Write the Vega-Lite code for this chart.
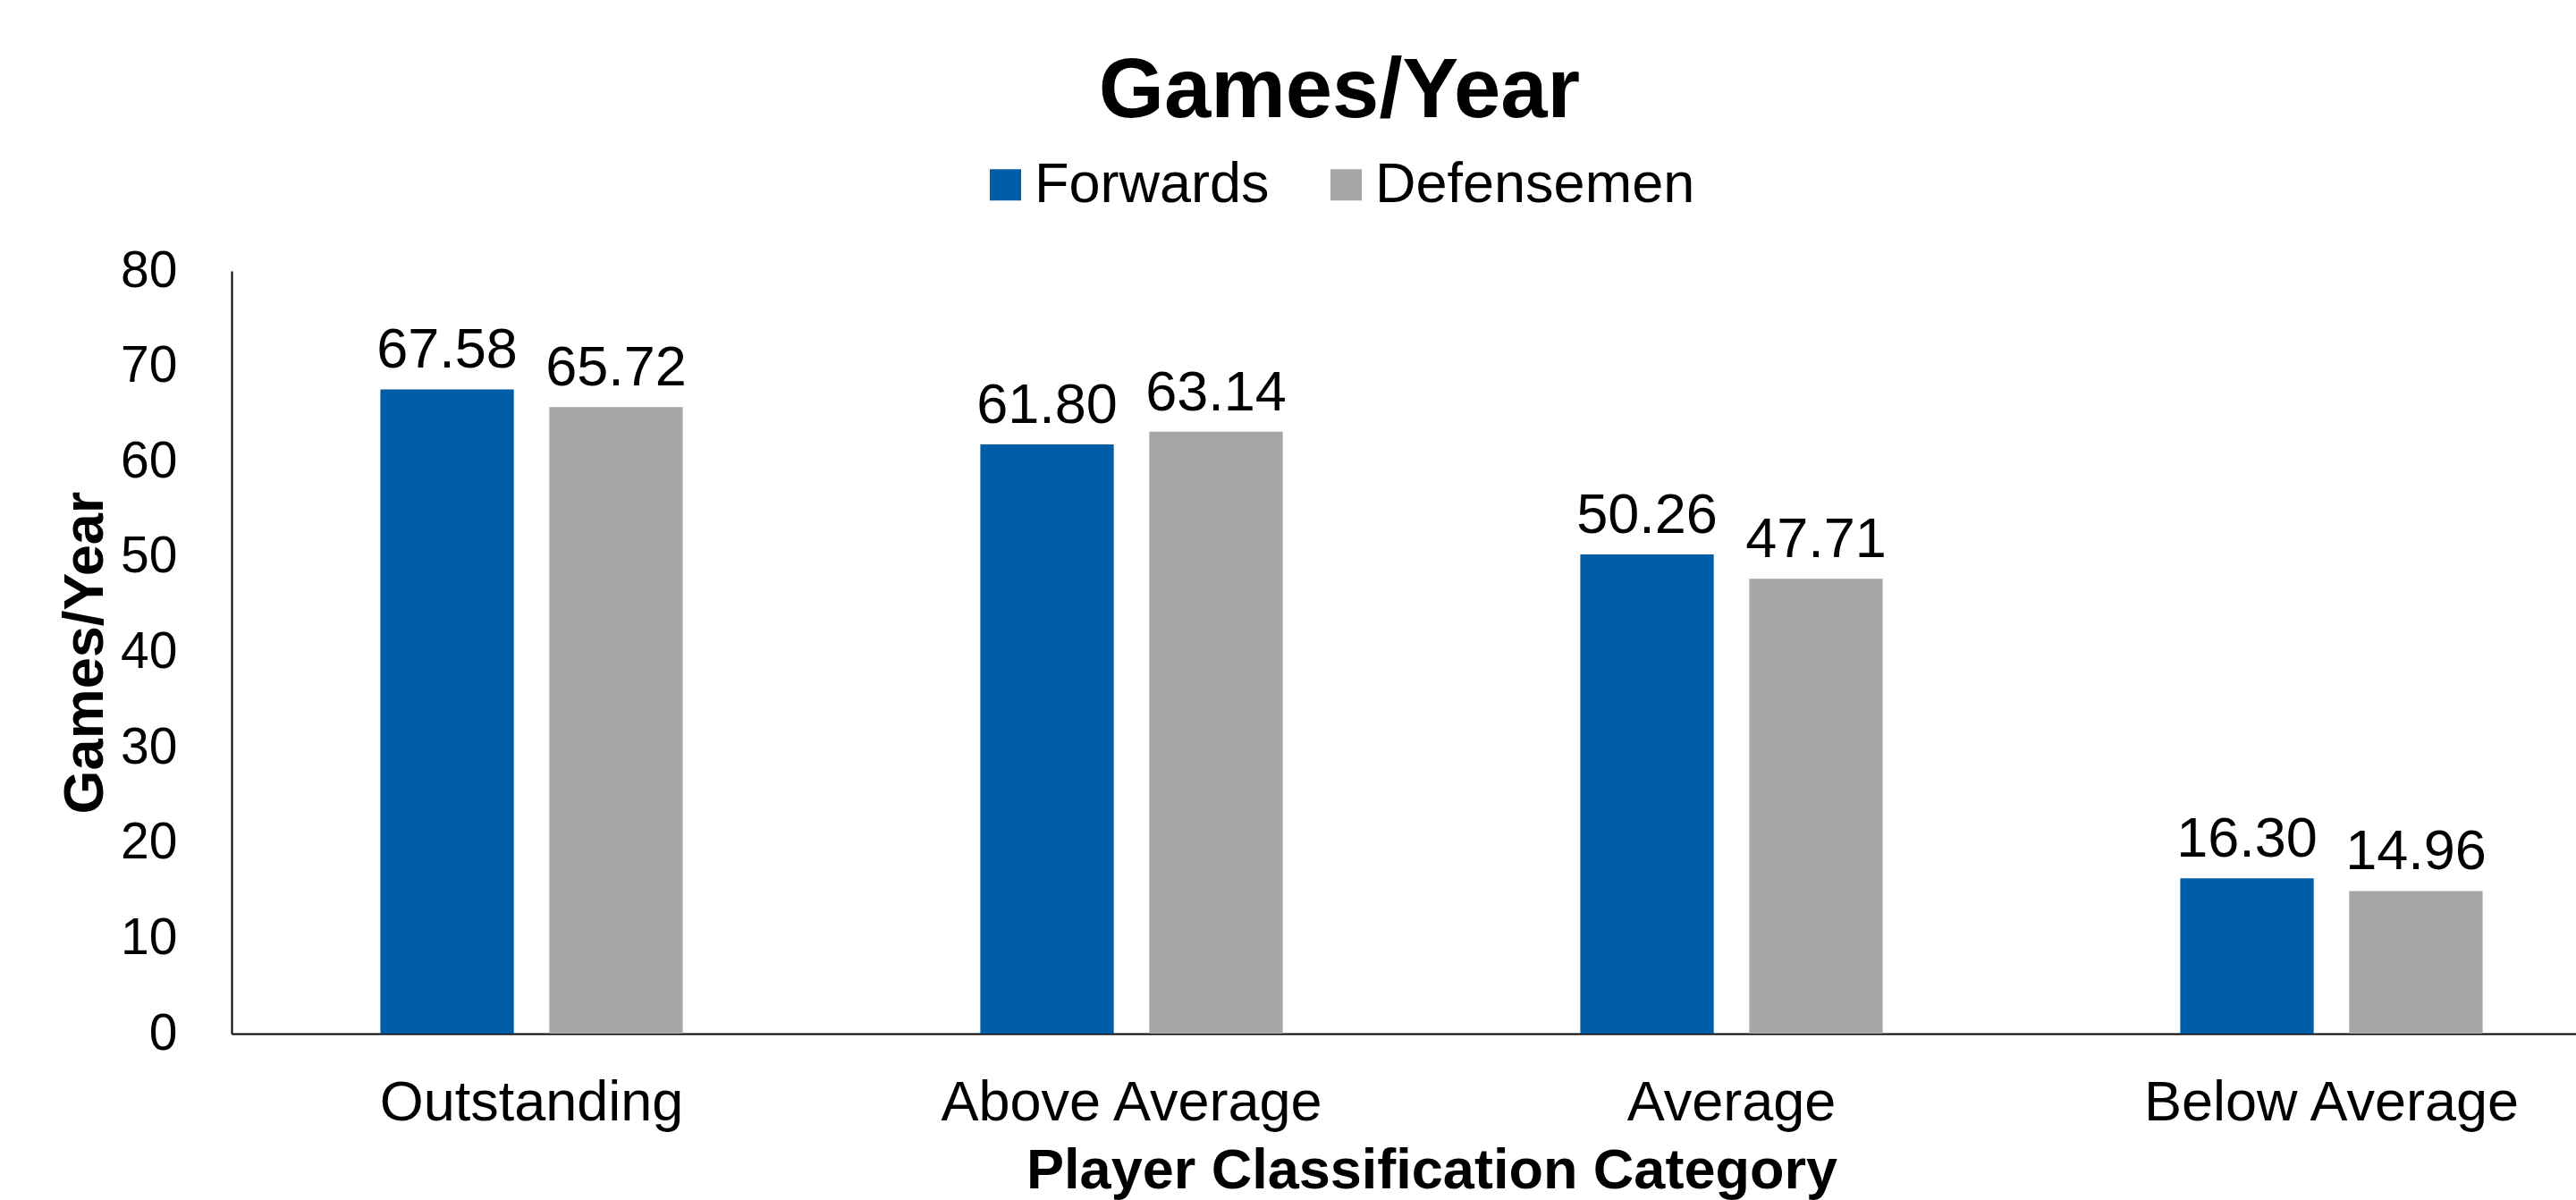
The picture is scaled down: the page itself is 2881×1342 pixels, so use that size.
{
  "$schema": "https://vega.github.io/schema/vega-lite/v6.json",
  "width": 2622,
  "height": 853,
  "autosize": {"type": "none"},
  "padding": {"left": 259, "top": 303, "right": 0, "bottom": 186},
  "background": "white",
  "config": {
    "font": "Liberation Sans",
    "view": {"stroke": null},
    "axis": {"grid": false, "ticks": false, "tickSize": 0, "domainColor": "#000000", "domainWidth": 2, "labelColor": "#000000", "titleColor": "#000000", "labelFont": "Liberation Sans", "titleFont": "Liberation Sans", "labelLimit": 0}
  },
  "title": {
    "text": "Games/Year",
    "fontSize": 94,
    "fontWeight": "bold",
    "font": "Liberation Sans",
    "color": "#000000",
    "anchor": "middle",
    "baseline": "alphabetic",
    "dx": -72,
    "offset": -50
  },
  "data": {
    "values": [
      {"category": "Outstanding", "position": "Forwards", "value": 67.58},
      {"category": "Outstanding", "position": "Defensemen", "value": 65.72},
      {"category": "Above Average", "position": "Forwards", "value": 61.80},
      {"category": "Above Average", "position": "Defensemen", "value": 63.14},
      {"category": "Average", "position": "Forwards", "value": 50.26},
      {"category": "Average", "position": "Defensemen", "value": 47.71},
      {"category": "Below Average", "position": "Forwards", "value": 16.30},
      {"category": "Below Average", "position": "Defensemen", "value": 14.96}
    ]
  },
  "encoding": {
    "x": {
      "field": "category",
      "type": "nominal",
      "sort": ["Outstanding", "Above Average", "Average", "Below Average"],
      "scale": {"range": [0, 2684], "paddingInner": 0.496, "paddingOuter": 0.248},
      "axis": {
        "title": "Player Classification Category",
        "titleFontSize": 63,
        "titleFontWeight": "bold",
        "titleBaseline": "alphabetic",
        "titleY": 172,
        "labelFontSize": 63,
        "labelAngle": 0,
        "labelBaseline": "alphabetic",
        "labelPadding": 96,
        "labelLimit": 0
      }
    },
    "xOffset": {
      "field": "position",
      "type": "nominal",
      "sort": ["Forwards", "Defensemen"],
      "scale": {"paddingInner": 0.21, "paddingOuter": 0}
    },
    "y": {
      "field": "value",
      "type": "quantitative",
      "scale": {"domain": [0, 80], "nice": false},
      "axis": {
        "title": "Games/Year",
        "titleFontSize": 63,
        "titleFontWeight": "bold",
        "titleAngle": -90,
        "titleBaseline": "alphabetic",
        "titleAlign": "center",
        "titleX": -145,
        "titleY": 426.5,
        "values": [0, 10, 20, 30, 40, 50, 60, 70, 80],
        "labelFontSize": 57,
        "labelPadding": 61,
        "labelBaseline": "middle"
      }
    }
  },
  "layer": [
    {
      "mark": {"type": "bar"},
      "encoding": {
        "color": {
          "field": "position",
          "type": "nominal",
          "sort": ["Forwards", "Defensemen"],
          "scale": {"domain": ["Forwards", "Defensemen"], "range": ["#005DA8", "#A6A6A6"]},
          "legend": {
            "title": null,
            "orient": "none",
            "direction": "horizontal",
            "legendX": 834,
            "legendY": -128,
            "symbolType": "square",
            "symbolSize": 1225,
            "symbolStrokeWidth": 0,
            "labelFontSize": 63,
            "labelColor": "#000000",
            "labelOffset": 1,
            "labelLimit": 0,
            "columnPadding": 54,
            "padding": 0
          }
        }
      }
    },
    {
      "mark": {"type": "text", "fontSize": 63, "baseline": "alphabetic", "dy": -24, "color": "#000000", "font": "Liberation Sans"},
      "encoding": {
        "text": {"field": "value", "type": "quantitative", "format": ".2f"}
      }
    }
  ]
}
